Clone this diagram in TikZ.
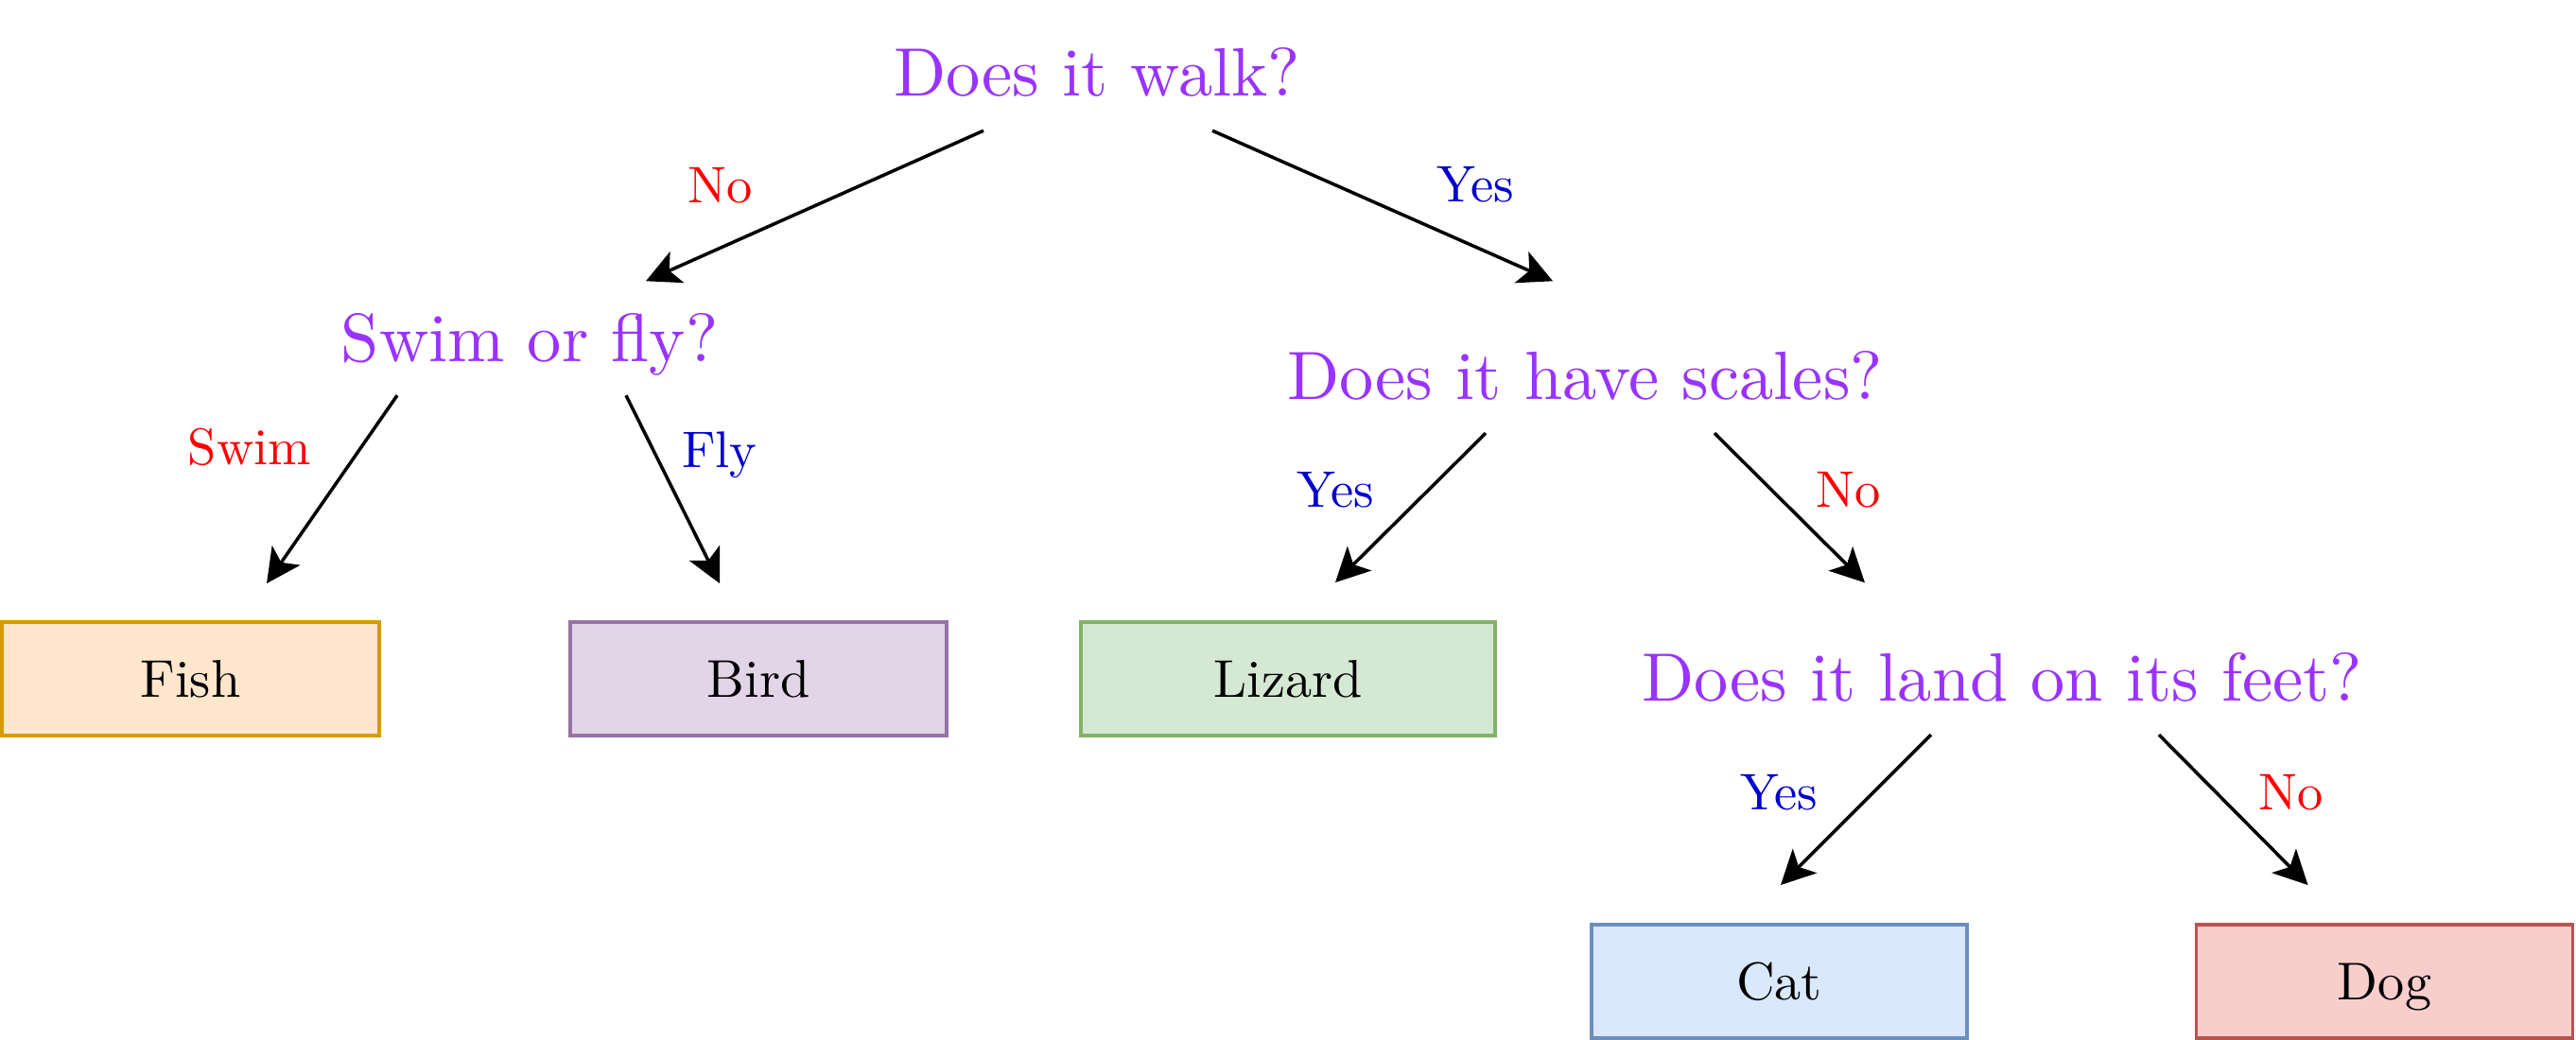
\documentclass[tikz,border=0pt]{standalone}
\usepackage{fontspec}
\setmainfont{lmroman10-regular.otf}
\usetikzlibrary{arrows.meta}

\definecolor{qpurple}{HTML}{9933FF}
\definecolor{yesblue}{HTML}{0000CC}
\definecolor{nored}{HTML}{FF0000}
\definecolor{fishfill}{HTML}{FFE6CC}
\definecolor{fishline}{HTML}{D79B00}
\definecolor{birdfill}{HTML}{E1D5E7}
\definecolor{birdline}{HTML}{9673A6}
\definecolor{lizfill}{HTML}{D5E8D4}
\definecolor{lizline}{HTML}{82B366}
\definecolor{catfill}{HTML}{DAE8FC}
\definecolor{catline}{HTML}{6C8EBF}
\definecolor{dogfill}{HTML}{F8CECC}
\definecolor{dogline}{HTML}{B85450}

\begin{document}
\begin{tikzpicture}[
  question/.style={text=qpurple,font=\fontsize{20.6}{25}\selectfont,inner sep=0pt,
    text height=0.885cm,text depth=0.355cm,anchor=base},
  leaf/.style={line width=1.1pt,minimum height=1.2cm,inner sep=0pt,
    text height=10.9pt,text depth=0pt,font=\fontsize{16}{19}\selectfont},
  yeslbl/.style={text=yesblue,anchor=base,font=\fontsize{15.5}{18}\selectfont},
  nolbl/.style={text=nored,anchor=base,font=\fontsize{15.5}{18}\selectfont},
  arr/.style={-{Stealth[length=3.6mm,width=3.6mm,inset=0.9mm]},line width=1pt}
]
\useasboundingbox (0,0) rectangle (27.24,-11);

% the questions
\node[question] (walk) at (11.60,-1.02) {Does it walk?};
\node[question] (swim) at (5.60,-3.82) {Swim or fly?};
\node[question] (scales) at (16.76,-4.22) {Does it have scales?};
\node[question] (feet) at (21.17,-7.41) {Does it land on its feet?};

% the answers
\node[leaf,minimum width=3.99cm,fill=fishfill,draw=fishline] (fish) at (2.015,-7.18) {Fish};
\node[leaf,minimum width=3.98cm,fill=birdfill,draw=birdline] (bird) at (8.02,-7.18) {Bird};
\node[leaf,minimum width=4.38cm,fill=lizfill,draw=lizline] (lizard) at (13.62,-7.18) {Lizard};
\node[leaf,minimum width=3.97cm,fill=catfill,draw=catline] (cat) at (18.815,-10.38) {Cat};
\node[leaf,minimum width=3.98cm,fill=dogfill,draw=dogline] (dog) at (25.215,-10.38) {Dog};

% arrows between them
\draw[arr] ([xshift=-1.2cm]walk.south) -- ([xshift=1.23cm,yshift=-0.45mm]swim.north);
\draw[arr] ([xshift=1.22cm]walk.south) -- ([xshift=-0.34cm,yshift=0.355cm]scales.north);
\draw[arr] ([xshift=-1.40cm]swim.south) -- ([xshift=0.805cm,yshift=0.39cm]fish.north);
\draw[arr] ([xshift=1.02cm]swim.south) -- ([xshift=-0.41cm,yshift=0.39cm]bird.north);
\draw[arr] ([xshift=-1.05cm]scales.south) -- ([xshift=0.50cm,yshift=0.40cm]lizard.north);
\draw[arr] ([xshift=1.37cm]scales.south) -- ([xshift=-1.45cm,yshift=0.355cm]feet.north);
\draw[arr] ([xshift=-0.75cm]feet.south) -- ([xshift=0.015cm,yshift=0.40cm]cat.north);
\draw[arr] ([xshift=1.66cm]feet.south) -- ([xshift=-0.81cm,yshift=0.40cm]dog.north);

% labels for the arrows
\node[nolbl] (no1) at (7.62,-2.15) {No};
\node[yeslbl] (yes1) at (15.60,-2.14) {Yes};
\node[nolbl] (swimlbl) at (2.64,-4.92) {Swim};
\node[yeslbl] (flylbl) at (7.61,-4.946) {Fly};
\node[yeslbl] (yes2) at (14.12,-5.36) {Yes};
\node[nolbl] (no2) at (19.55,-5.36) {No};
\node[yeslbl] (yes3) at (18.81,-8.56) {Yes};
\node[nolbl] (no3) at (24.23,-8.56) {No};

\end{tikzpicture}
\end{document}
